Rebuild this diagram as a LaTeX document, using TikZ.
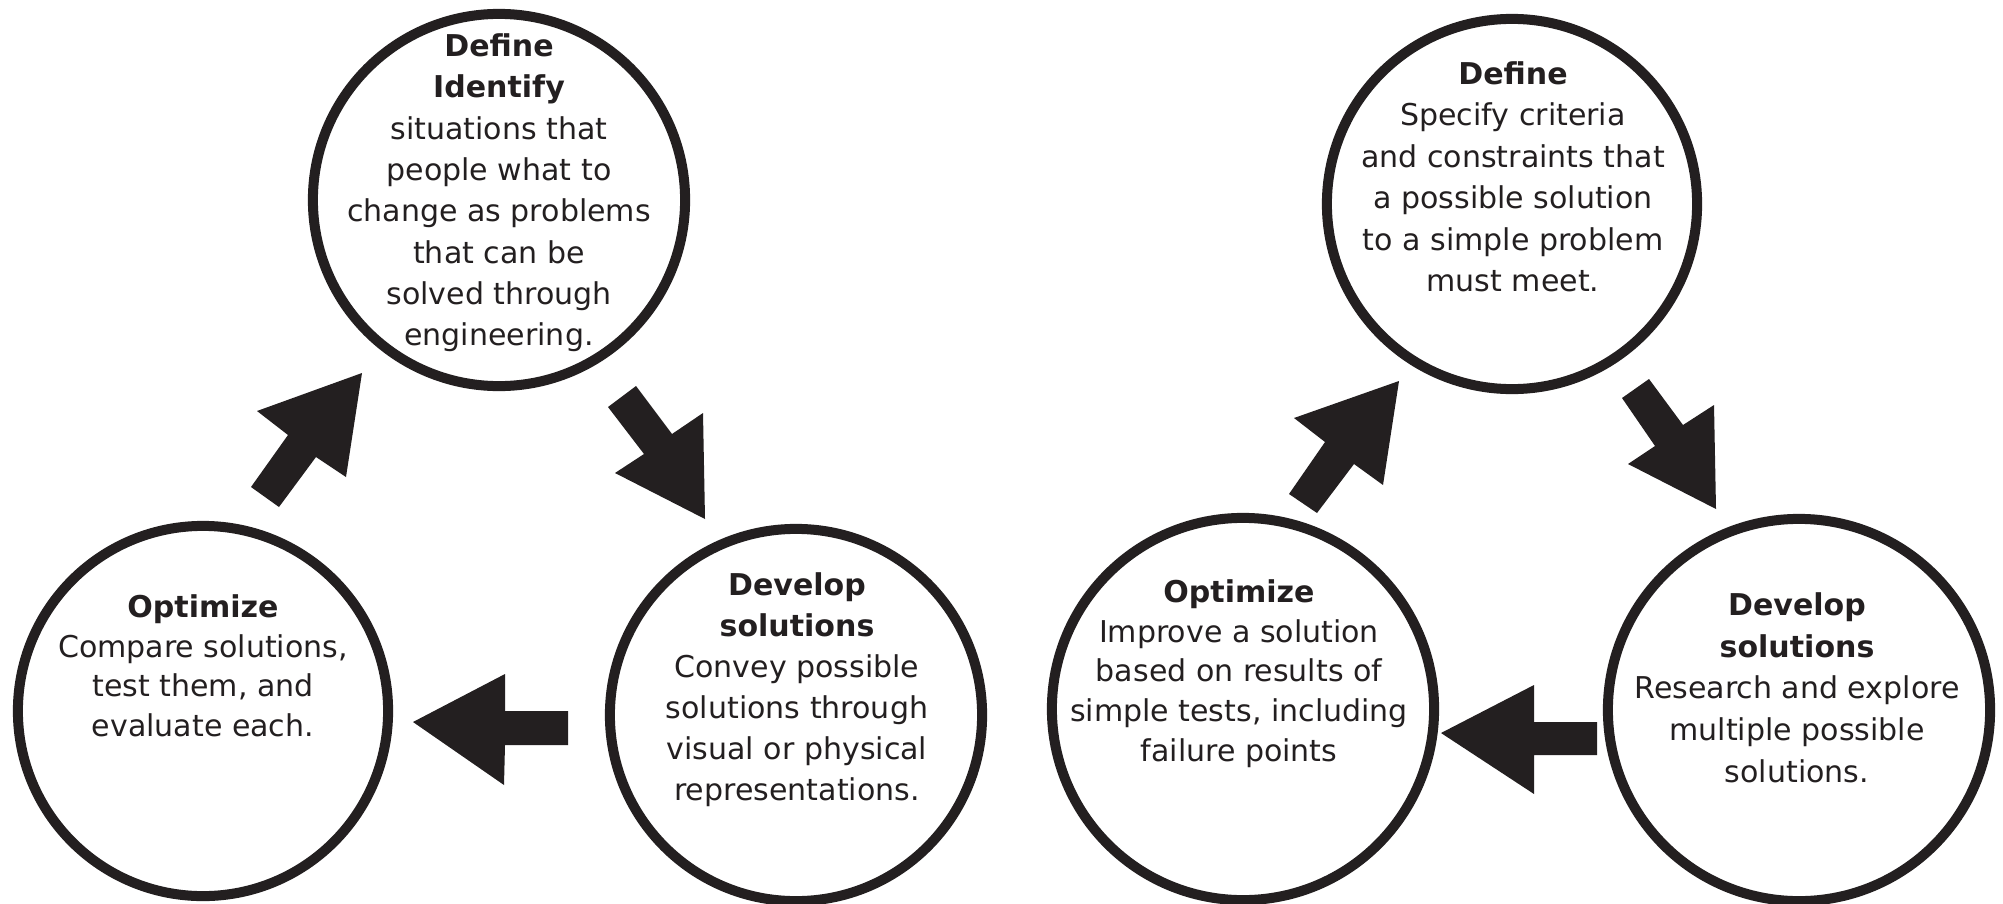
\documentclass[tikz,border=0pt]{standalone}
\usepackage{fontspec}
\setmainfont{DejaVu Sans}
\definecolor{ink}{HTML}{231F20}
\tikzset{
  ring/.style={circle, draw=ink, line width=0.1cm, inner sep=0pt, fill=white},
  txt/.style={align=center, inner sep=0pt, anchor=north, text=ink},
  blockarrow/.style={fill=ink, draw=none},
}
\newcommand{\sz}[1]{\fontsize{8.54pt}{#1}\selectfont}
\begin{document}
\begin{tikzpicture}[x=0.01cm, y=-0.01cm]
\path[use as bounding box, fill=white] (0,0) rectangle (2003,903);

% ---------- left cycle ----------
\node[ring, minimum size=3.72cm] (LD) at (499,200) {};
\node[ring, minimum size=3.70cm] (LO) at (203,711) {};
\node[ring, minimum size=3.72cm] (LV) at (796,715) {};

\node[txt, font=\sz{11.75pt}] (LDt) at (499,33) {\textbf{Define}\\\textbf{Identify}\\situations that\\people what to\\change as problems\\that can be\\solved through\\engineering.};
\node[txt, font=\sz{11.27pt}] (LOt) at (203,594) {\textbf{Optimize}\\Compare solutions,\\test them, and\\evaluate each.};
\node[txt, font=\sz{11.67pt}] (LVt) at (797,572) {\textbf{Develop}\\\textbf{solutions}\\Convey possible\\solutions through\\visual or physical\\representations.};

% arrows (left)
\fill[blockarrow] (251,487) -- (279,507) -- (316,457) -- (346,477) -- (362,373) -- (257,411) -- (288,435) -- cycle;
\fill[blockarrow] (636,386) -- (608,407) -- (644,454) -- (615,473) -- (705,519) -- (703,413) -- (672,434) -- cycle;
\fill[blockarrow] (568,711) -- (568,745) -- (505,745) -- (504,785) -- (413,722) -- (505,674) -- (505,711) -- cycle;

% ---------- right cycle ----------
\node[ring, minimum size=3.70cm] (RD) at (1512,204) {};
\node[ring, minimum size=3.82cm] (RO) at (1243,709) {};
\node[ring, minimum size=3.82cm] (RV) at (1799,710) {};

\node[txt, font=\sz{11.78pt}] (RDt) at (1513,61) {\textbf{Define}\\Specify criteria\\and constraints that\\a possible solution\\to a simple problem\\must meet.};
\node[txt, font=\sz{11.27pt}] (ROt) at (1239,579) {\textbf{Optimize}\\Improve a solution\\based on results of\\simple tests, including\\failure points};
\node[txt, font=\sz{11.86pt}] (RVt) at (1797,592) {\textbf{Develop}\\\textbf{solutions}\\Research and explore\\multiple possible\\solutions.};

% arrows (right)
\fill[blockarrow] (1289,494) -- (1317,513) -- (1354,464) -- (1383,485) -- (1399,381) -- (1294,418) -- (1325,442) -- cycle;
\fill[blockarrow] (1649,379) -- (1622,398) -- (1655,446) -- (1628,464) -- (1716,509) -- (1714,405) -- (1683,425) -- cycle;
\fill[blockarrow] (1597,722) -- (1597,755) -- (1534,755) -- (1534,794) -- (1441,733) -- (1534,685) -- (1534,722) -- cycle;
\end{tikzpicture}
\end{document}
